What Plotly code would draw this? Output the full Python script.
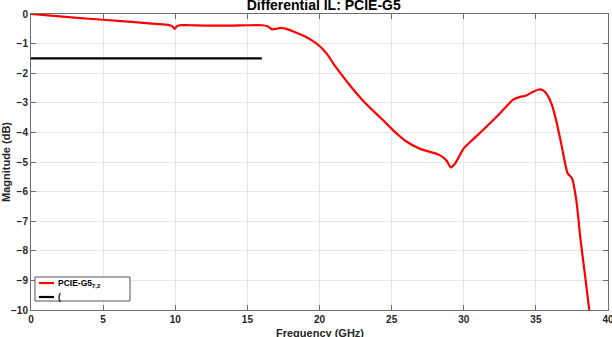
import plotly.graph_objects as go

# Differential insertion loss of the PCIE-G5 channel
freq_ghz = [0, 2, 4, 6, 8, 9.5, 9.8, 9.95, 10.1, 10.3, 11, 12, 13, 14, 15, 16,
            16.4, 16.7, 17.0, 17.3, 17.8, 18.4, 19.0, 19.5, 20, 20.5, 21, 21.5,
            22, 23, 24, 24.5, 25, 25.5, 26, 26.9, 27.6, 28.3, 28.8, 29.1, 29.4,
            30.0, 30.5, 31.1, 31.8, 32.5, 33.0, 33.4, 33.9, 34.3, 34.8, 35.2,
            35.5, 35.8, 36.1, 36.4, 36.8, 37.2, 37.5, 37.8, 38.1, 38.4, 38.7, 38.9]
il_db = [0, -0.08, -0.16, -0.23, -0.31, -0.37, -0.42, -0.5, -0.42, -0.38, -0.38,
         -0.39, -0.39, -0.39, -0.38, -0.38, -0.41, -0.52, -0.5, -0.47, -0.52,
         -0.63, -0.76, -0.9, -1.08, -1.34, -1.7, -2.03, -2.35, -2.92, -3.4,
         -3.63, -3.88, -4.1, -4.3, -4.54, -4.65, -4.76, -4.95, -5.18, -5.05,
         -4.54, -4.3, -4.03, -3.7, -3.36, -3.1, -2.9, -2.8, -2.76, -2.63, -2.55,
         -2.58, -2.74, -3.05, -3.58, -4.48, -5.38, -5.55, -6.28, -7.64, -8.8,
         -10.0, -10.8]

# Limit line
limit_freq = [0, 16]
limit_db = [-1.5, -1.5]

series_names = ["PCIE-G5<sub>7,2</sub>", "("]
series_colors = ["#ff0000", "#000000"]

x_ticks = [0, 5, 10, 15, 20, 25, 30, 35, 40]
y_ticks = [0, -1, -2, -3, -4, -5, -6, -7, -8, -9, -10]

font_family = "Liberation Sans, Arial, sans-serif"
tick_color = "#262626"

fig = go.Figure()
fig.add_trace(go.Scatter(
    x=freq_ghz, y=il_db, mode="lines", name=series_names[0],
    line=dict(color=series_colors[0], width=2.2, shape="spline", smoothing=0.6),
    showlegend=False,
))
fig.add_trace(go.Scatter(
    x=limit_freq, y=limit_db, mode="lines", name=series_names[1],
    line=dict(color=series_colors[1], width=2.2),
    showlegend=False,
))

axis_common = dict(
    showline=True, linecolor="#6e6e6e", linewidth=1, mirror="allticks",
    ticks="inside", ticklen=5, tickcolor="#6e6e6e",
    showgrid=True, gridcolor="#e6e6e6", gridwidth=1, zeroline=False,
    automargin=False, ticklabeloverflow="allow",
    tickfont=dict(family=font_family, size=10, color=tick_color, weight="bold"),
)

# Compact boxed legend in the lower-left corner of the axes
legend_box = dict(x0=0.0069, x1=0.1716, y0=0.0304, y1=0.1115)
legend_rows = [0.0912, 0.0439]
shapes = [dict(type="rect", xref="paper", yref="paper", layer="above",
               fillcolor="white", line=dict(color="#555555", width=1), **legend_box)]
annotations = []
for name, color, row in zip(series_names, series_colors, legend_rows):
    shapes.append(dict(type="line", xref="paper", yref="paper", layer="above",
                       x0=0.0139, x1=0.0399, y0=row, y1=row,
                       line=dict(color=color, width=2.2)))
    annotations.append(dict(xref="paper", yref="paper", x=0.0425, y=row,
                            xanchor="left", yanchor="middle", showarrow=False,
                            text=name,
                            font=dict(family=font_family, size=8.5, color="#000000",
                                      weight="bold")))

# x-axis title, set a little lower than the default placement
annotations.append(dict(xref="paper", yref="paper", x=0.5, y=0, xanchor="center",
                        yanchor="top", yshift=-15, showarrow=False,
                        text="Frequency (GHz)",
                        font=dict(family=font_family, size=11, color=tick_color,
                                  weight="bold")))

fig.update_layout(
    width=612, height=337,
    margin=dict(l=31, r=4, t=14, b=27),
    paper_bgcolor="white", plot_bgcolor="white",
    showlegend=False,
    title=dict(
        text="Differential IL: PCIE-G5", x=0.529, xanchor="center",
        y=1.0, yanchor="top", pad=dict(t=0, b=0),
        font=dict(family=font_family, size=14, color="#000000", weight="bold"),
    ),
    xaxis=dict(range=[0, 40], tickvals=x_ticks, **axis_common),
    yaxis=dict(
        range=[-10, 0], tickvals=y_ticks,
        title=dict(text="Magnitude (dB)", standoff=2,
                   font=dict(family=font_family, size=11, color=tick_color, weight="bold")),
        **axis_common,
    ),
    shapes=shapes,
    annotations=annotations,
)

fig.write_html("out.html")
